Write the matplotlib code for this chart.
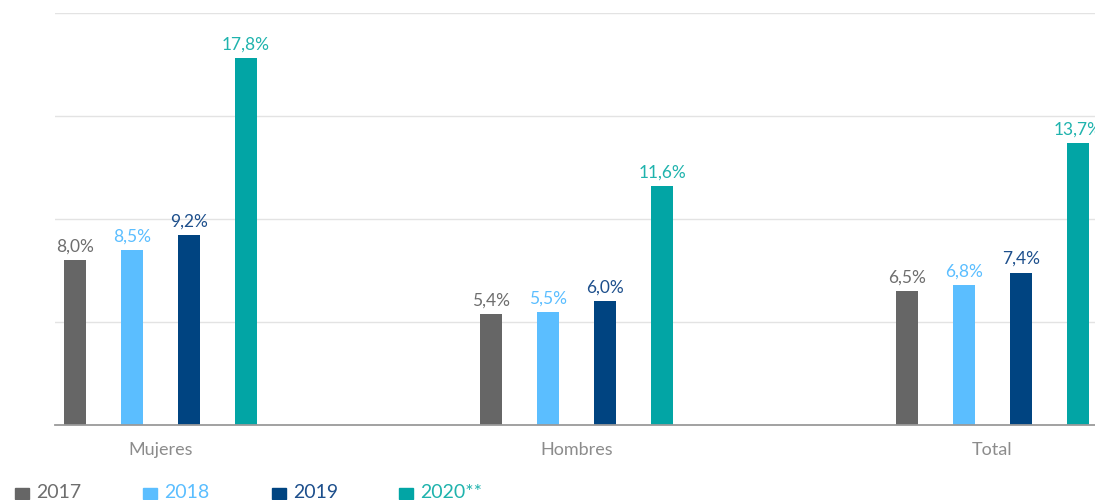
import numpy as np
import matplotlib.pyplot as plt
from matplotlib.patches import Rectangle

# Tasa por sexo y año (%)
categories = ['Mujeres', 'Hombres', 'Total']
years = ['2017', '2018', '2019', '2020**']
values_2017 = [8.0, 5.4, 6.5]
values_2018 = [8.5, 5.5, 6.8]
values_2019 = [9.2, 6.0, 7.4]
values_2020 = [17.8, 11.6, 13.7]

series = [values_2017, values_2018, values_2019, values_2020]
colors = ['#666666', '#5BBEFF', '#004481', '#02A5A5']
label_colors = ['#6e6e6e', '#5BBEFF', '#1d4f8c', '#1fb3ad']

plt.rcParams['font.family'] = ['Lato', 'DejaVu Sans']

fig = plt.figure(figsize=(10.95, 5.0), dpi=100)
ax = fig.add_axes([55 / 1095, 0.15, 1 - 55 / 1095, 0.824])

x = np.arange(len(categories))
pitch = 57 / 416
width = 22 / 416

for i, (vals, c, lc) in enumerate(zip(series, colors, label_colors)):
    pos = x + (i - 1.5) * pitch
    bars = ax.bar(pos, vals, width=width, color=c, zorder=3)
    for b, v in zip(bars, vals):
        ax.annotate(f'{v:.1f}%'.replace('.', ','),
                    (b.get_x() + b.get_width() / 2, v),
                    xytext=(0, 4), textcoords='offset points',
                    ha='center', va='bottom', fontsize=12.5, color=lc)

ax.set_xlim(-105.5 / 416, -105.5 / 416 + 1040 / 416)
ax.set_ylim(0, 20)
ax.set_yticks([5, 10, 15, 20])
ax.set_yticklabels([])
ax.tick_params(axis='y', length=0)
ax.grid(axis='y', color='#e3e3e3', linewidth=1, zorder=0)

ax.set_xticks(x)
ax.set_xticklabels(categories, fontsize=13, color='#8c8c8c')
ax.tick_params(axis='x', length=0, pad=12)

for s in ['top', 'right', 'left']:
    ax.spines[s].set_visible(False)
ax.spines['bottom'].set_color('#9a9a9a')
ax.spines['bottom'].set_linewidth(1.3)
ax.spines['bottom'].set_zorder(4)

# leyenda manual bajo el gráfico
legend_x = [15, 143, 272, 399]
for lx, yr, c, lc in zip(legend_x, years, colors, label_colors):
    fig.patches.append(Rectangle((lx / 1095, 1 - 499 / 500), 14 / 1095, 11 / 500,
                                 transform=fig.transFigure, color=c))
    fig.text((lx + 21) / 1095, 1 - 493 / 500, yr, fontsize=14, color=lc,
             va='center', ha='left')

fig.savefig('out.png', dpi=100)
